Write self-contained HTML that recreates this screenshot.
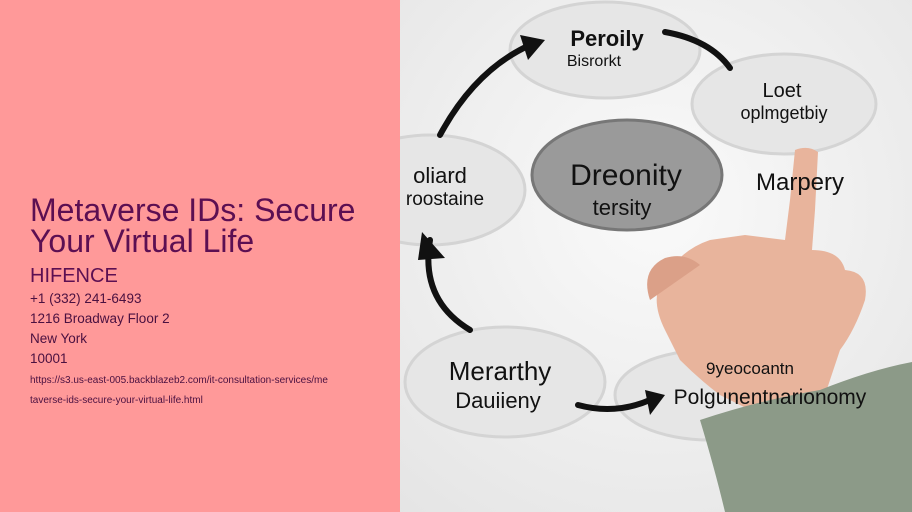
<!DOCTYPE html>
<html><head><meta charset="utf-8"><style>
body{margin:0;width:912px;height:512px;overflow:hidden;font-family:"Liberation Sans",sans-serif;position:relative;background:#fff}
#l{position:absolute;left:0;top:0;width:400px;height:512px;background:#ff9999}
.t{position:absolute;left:30px;color:#5c0f52;white-space:nowrap}
#r{position:absolute;left:400px;top:0;width:512px;height:512px}
</style></head><body>
<div id="l">
<div class="t" style="top:195px;font-size:32px;line-height:31px">Metaverse IDs: Secure<br>Your Virtual Life</div>
<div class="t" style="top:265px;font-size:20px">HIFENCE</div>
<div class="t" style="top:291px;font-size:13.5px;color:#4a1040">+1 (332) 241-6493</div>
<div class="t" style="top:311px;font-size:13.5px;color:#4a1040">1216 Broadway Floor 2</div>
<div class="t" style="top:331px;font-size:13.5px;color:#4a1040">New York</div>
<div class="t" style="top:351px;font-size:13.5px;color:#4a1040">10001</div>
<div class="t" style="top:375px;font-size:10px;color:#4a1040">https://s3.us-east-005.backblazeb2.com/it-consultation-services/me</div>
<div class="t" style="top:395px;font-size:10px;color:#4a1040">taverse-ids-secure-your-virtual-life.html</div>
</div>
<svg id="r" viewBox="0 0 512 512">
<defs><radialGradient id="bg" cx="0.5" cy="0.4" r="0.8"><stop offset="0" stop-color="#fafafa"/><stop offset="1" stop-color="#e4e4e4"/></radialGradient></defs>
<rect width="512" height="512" fill="url(#bg)"/>
<g fill="#e6e6e6" stroke="#d4d4d4" stroke-width="3">
<ellipse cx="205" cy="50" rx="95" ry="48"/>
<ellipse cx="384" cy="104" rx="92" ry="50"/>
<ellipse cx="30" cy="190" rx="95" ry="55"/>
<ellipse cx="105" cy="382" rx="100" ry="55"/>
<ellipse cx="310" cy="395" rx="95" ry="45"/>
</g>
<ellipse cx="227" cy="175" rx="95" ry="55" fill="#9a9a9a" stroke="#777" stroke-width="3"/>
<path d="M395 150 Q408 145 418 152 L415 210 L412 250 Q440 250 445 270 Q470 272 465 300 Q455 330 440 350 L425 395 L395 410 L350 410 L320 395 Q300 380 280 360 L265 330 Q250 300 262 280 Q280 250 310 240 L345 235 L385 240 L390 200Z" fill="#e8b49c"/>
<path d="M250 300 Q240 270 265 258 Q285 252 300 265" fill="#dba088"/>
<path d="M300 420 Q360 400 420 390 Q470 370 512 362 L512 512 L325 512 Q315 470 300 420Z" fill="#8c9a88"/>
<g font-family="Liberation Sans,sans-serif" fill="#111" font-weight="bold" text-anchor="middle">
<text x="207" y="46" font-size="22">Peroily</text><text x="194" y="66" font-size="16" font-weight="normal">Bisrorkt</text>
<text x="382" y="97" font-size="20" font-weight="normal">Loet</text><text x="384" y="119" font-size="18" font-weight="normal">oplmgetbiy</text>
<text x="40" y="183" font-size="22" font-weight="normal">oliard</text><text x="45" y="205" font-size="19" font-weight="normal">roostaine</text>
<text x="226" y="185" font-size="30" font-weight="normal">Dreonity</text><text x="222" y="215" font-size="22" font-weight="normal">tersity</text>
<text x="400" y="190" font-size="24" font-weight="normal">Marpery</text>
<text x="100" y="380" font-size="26" font-weight="normal">Merarthy</text><text x="98" y="408" font-size="22" font-weight="normal">Dauiieny</text>
<text x="350" y="374" font-size="17" font-weight="normal">9yeocoantn</text><text x="370" y="404" font-size="21" font-weight="normal">Polgunentnarionomy</text>
</g>
<g fill="none" stroke="#111" stroke-width="6" stroke-linecap="round">
<path d="M40 135 Q75 70 130 45"/><path d="M265 32 Q310 40 330 68"/>
<path d="M30 240 Q20 300 70 330"/><path d="M178 405 Q215 415 250 400"/>
</g>
<g fill="#111"><path d="M145 40 L120 35 L128 60Z"/><path d="M22 232 L45 258 L18 260Z"/><path d="M265 395 L245 390 L250 415Z"/></g>
</svg>
</body></html>
